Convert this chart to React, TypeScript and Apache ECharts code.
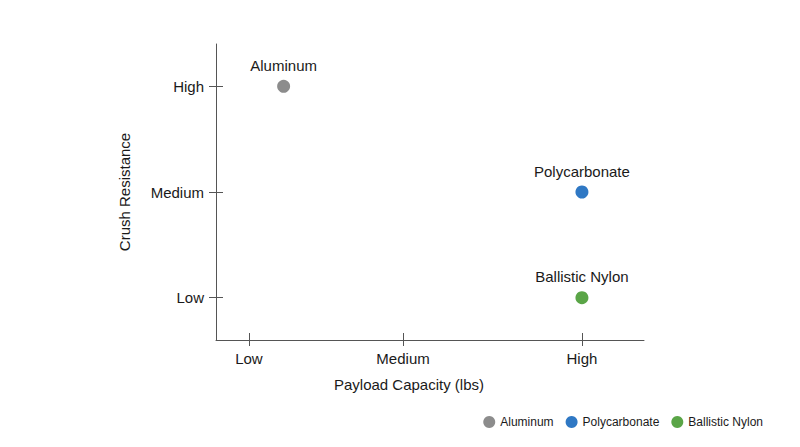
import * as echarts from "echarts";
import { useEffect, useRef } from "react";

const materials = ["Aluminum", "Polycarbonate", "Ballistic Nylon"];
const colors = ["#8c8c8c", "#2f78c4", "#5aa547"];
// payload capacity on an arbitrary 0..100 scale, crush resistance 1..3
const payload = [15.8, 85.5, 85.5];
const crush = [3, 2, 1];

const xTickValues = [7.7, 43.7, 85.5];
const xTickLabels = ["Low", "Medium", "High"];
const yTickValues = [1, 2, 3];
const yTickLabels = ["Low", "Medium", "High"];

const FONT = "'Liberation Sans', Helvetica, Arial, sans-serif";
const TEXT = "#1a1a1a";
const AXIS = "#555555";

export default function App(): React.ReactElement {
  const ref = useRef<HTMLDivElement | null>(null);

  useEffect(() => {
    document.body.style.margin = "0";
    const el = ref.current;
    if (el === null) return;
    const chart = echarts.init(el, null, { renderer: "svg" });

    const xLabel = (v: number) => {
      const i = xTickValues.findIndex((t) => Math.abs(t - v) < 1e-6);
      return i >= 0 ? xTickLabels[i] : "";
    };
    const yLabel = (v: number) => {
      const i = yTickValues.findIndex((t) => Math.abs(t - v) < 1e-6);
      return i >= 0 ? yTickLabels[i] : "";
    };

    const xBase = { type: "value", min: 0, max: 100, splitLine: { show: false } };
    const yBase = { type: "value", min: 0.6, max: 3.4, splitLine: { show: false } };

    chart.setOption({
      animation: false,
      textStyle: { fontFamily: FONT, color: TEXT },
      grid: { left: 216, right: 156, top: 44, bottom: 107 },
      legend: {
        right: 32,
        top: 411,
        icon: "circle",
        itemWidth: 12,
        itemHeight: 12,
        itemGap: 12,
        textStyle: { fontFamily: FONT, fontSize: 12, color: TEXT },
        data: materials,
      },
      xAxis: [
        {
          ...xBase,
          position: "bottom",
          name: "Payload Capacity (lbs)",
          nameLocation: "middle",
          nameGap: 37,
          nameTextStyle: { fontSize: 15, color: TEXT, padding: [0, 42, 0, 0] },
          axisLine: { show: true, lineStyle: { color: AXIS, width: 1 } },
          axisTick: { show: true, length: 6, customValues: xTickValues, lineStyle: { color: AXIS } },
          axisLabel: {
            customValues: xTickValues,
            formatter: xLabel,
            margin: 11,
            fontSize: 15,
            color: TEXT,
          },
        },
        {
          ...xBase,
          position: "bottom",
          axisLine: { show: false },
          axisTick: { show: true, inside: true, length: 7, customValues: xTickValues, lineStyle: { color: AXIS } },
          axisLabel: { show: false },
        },
      ],
      yAxis: [
        {
          ...yBase,
          position: "left",
          name: "Crush Resistance",
          nameLocation: "middle",
          nameGap: 84,
          nameTextStyle: { fontSize: 15, color: TEXT },
          axisLine: { show: true, lineStyle: { color: AXIS, width: 1 } },
          axisTick: { show: true, length: 7, customValues: yTickValues, lineStyle: { color: AXIS } },
          axisLabel: {
            customValues: yTickValues,
            formatter: yLabel,
            margin: 12,
            fontSize: 15,
            color: TEXT,
          },
        },
        {
          ...yBase,
          position: "left",
          axisLine: { show: false },
          axisTick: { show: true, inside: true, length: 7, customValues: yTickValues, lineStyle: { color: AXIS } },
          axisLabel: { show: false },
        },
      ],
      series: materials.map((name, i) => ({
        name,
        type: "scatter",
        xAxisIndex: 0,
        yAxisIndex: 0,
        symbol: "circle",
        symbolSize: 13,
        itemStyle: { color: colors[i], opacity: 1 },
        label: {
          show: true,
          position: "top",
          distance: 7,
          formatter: name,
          fontFamily: FONT,
          fontSize: 15,
          color: TEXT,
          opacity: 1,
        },
        data: [[payload[i], crush[i]]],
      })),
    });

    return () => chart.dispose();
  }, []);

  return <div ref={ref} style={{ width: 800, height: 447 }} />;
}
